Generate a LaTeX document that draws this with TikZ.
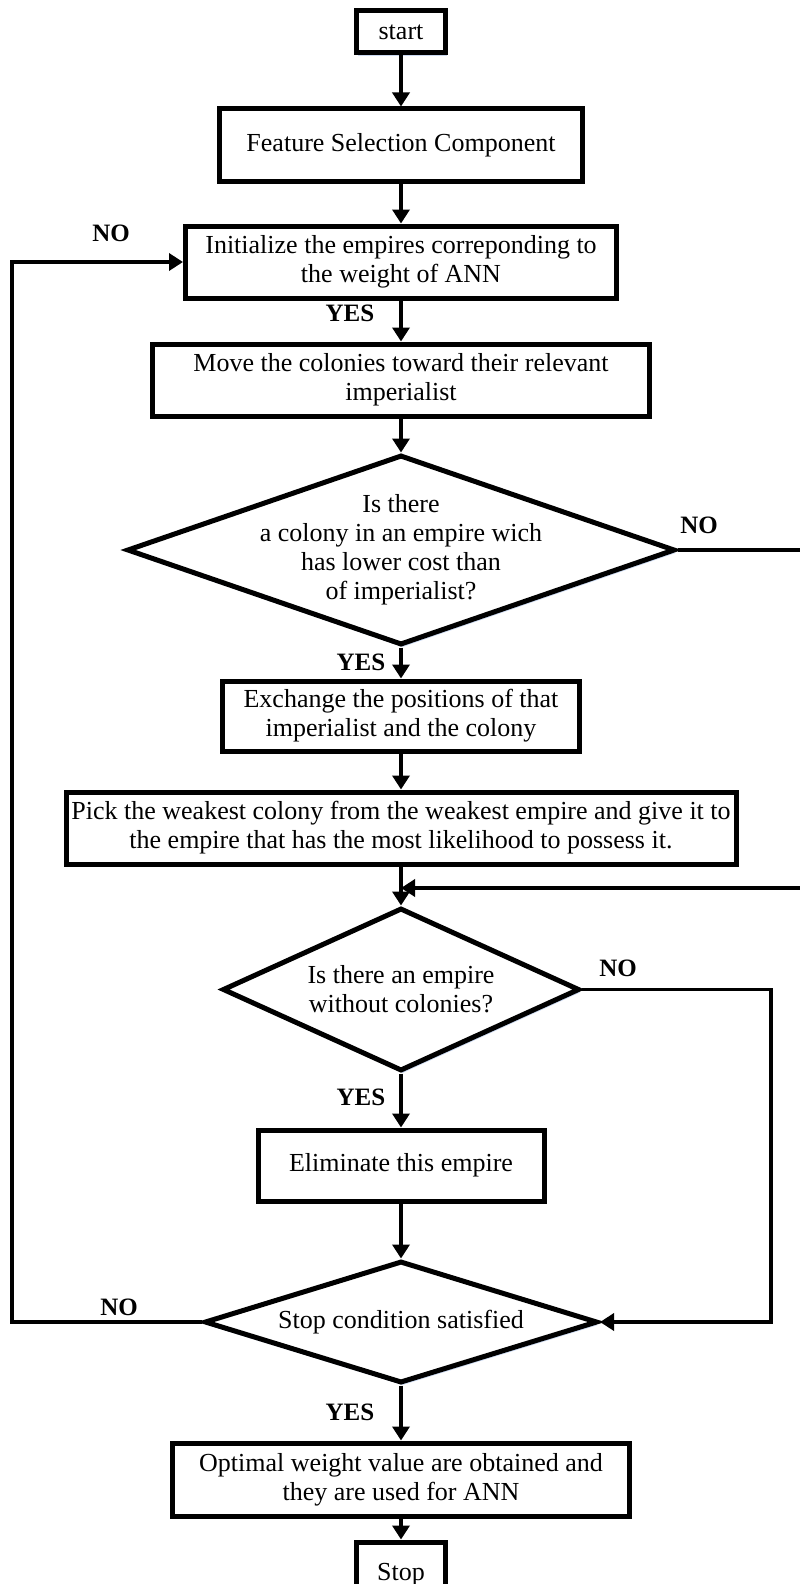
\documentclass[tikz,border=0pt]{standalone}
\usepackage{fontspec}
\setmainfont{Liberation Serif}
\usetikzlibrary{arrows.meta,shapes.geometric,shadows}
\definecolor{shadblue}{RGB}{190,208,238}
\begin{document}
\begin{tikzpicture}[x=1pt,y=-1pt,
  every node/.style={font=\fontsize{26}{29}\selectfont},
  shad/.style={drop shadow={fill=shadblue, opacity=0.8, shadow xshift=1.5pt, shadow yshift=-3pt}},
  box/.style={draw, line width=5pt, fill=white, align=center, inner sep=0pt, shad},
  dia/.style={diamond, draw, line width=5pt, fill=white, inner sep=0pt, shad},
  txt/.style={align=center, inner sep=0pt},
  lab/.style={font=\fontsize{25}{28}\selectfont\bfseries, inner sep=0pt},
  conn/.style={line width=3.5pt, -{Triangle[width=17pt,length=14pt]}}
]
\useasboundingbox (0,0) rectangle (800,1584);

% boxes
\node[box, minimum width=89pt, minimum height=42pt] (st) at (401,32) {start};
\node[box, minimum width=363pt, minimum height=72pt] (fs) at (401,145) {Feature Selection Component};
\node[box, minimum width=431pt, minimum height=72pt] (init) at (401,262) {Initialize the empires correponding to\\the weight of ANN};
\node[box, minimum width=497pt, minimum height=72pt] (mv) at (401,380) {Move the colonies toward their relevant\\imperialist};
\node[dia, minimum width=548pt, minimum height=190pt] (d1) at (401,550) {};
\node[txt] (d1t) at (d1) {Is there\\a colony in an empire wich\\has lower cost than\\of imperialist?};
\node[box, minimum width=357pt, minimum height=70pt] (ex) at (401,716) {Exchange the positions of that\\imperialist and the colony};
\node[box, minimum width=670pt, minimum height=72pt] (pk) at (401,828) {Pick the weakest colony from the weakest empire and give it to\\the empire that has the most likelihood to possess it.};
\node[dia, minimum width=357pt, minimum height=163pt] (d2) at (401,989.5) {};
\node[txt] (d2t) at (d2) {Is there an empire\\without colonies?};
\node[box, minimum width=286pt, minimum height=71pt] (el) at (401,1165.5) {Eliminate this empire};
\node[dia, minimum width=393pt, minimum height=122pt] (d3) at (401,1322) {};
\node[txt] (d3t) at (d3) {Stop condition satisfied};
\node[box, minimum width=457pt, minimum height=73pt] (op) at (401,1479.5) {Optimal weight value are obtained and\\they are used for ANN};
\node[box, minimum width=89pt, minimum height=66pt] (sp) at (401,1575) {Stop};

% labels
\node[lab] (n1) at (111,233) {NO};
\node[lab] (y1) at (350,313) {YES};
\node[lab] (n2) at (699,525) {NO};
\node[lab] (y2) at (361,662) {YES};
\node[lab] (n3) at (618,968) {NO};
\node[lab] (y3) at (361,1097) {YES};
\node[lab] (n4) at (119,1307) {NO};
\node[lab] (y4) at (350,1412) {YES};

% helper coordinates
\coordinate (j1) at (401,888);
\coordinate (rx) at (815,0);
\coordinate (r2) at (771,0);
\coordinate (lx) at (12,0);

% connectors
\draw[conn] (st) -- (fs);
\draw[conn] (fs) -- (init);
\draw[conn] (init) -- (mv);
\draw[conn] (mv) -- (d1);
\draw[conn] (d1) -- (ex);
\draw[conn] (ex) -- (pk);
\draw[conn] (pk) -- (d2);
\draw[conn] (d2) -- (el);
\draw[conn] (el) -- (d3);
\draw[conn] (d3) -- (op);
\draw[conn] (op) -- (sp);
\draw[conn] (d1.east) -- (rx |- d1.east) |- (j1);
\draw[conn] (d2.east) -- (r2 |- d2.east) -- (r2 |- d3.east) -- (d3.east);
\draw[conn] (d3.west) -- (lx |- d3.west) -- (lx |- init.west) -- (init.west);
\end{tikzpicture}
\end{document}
